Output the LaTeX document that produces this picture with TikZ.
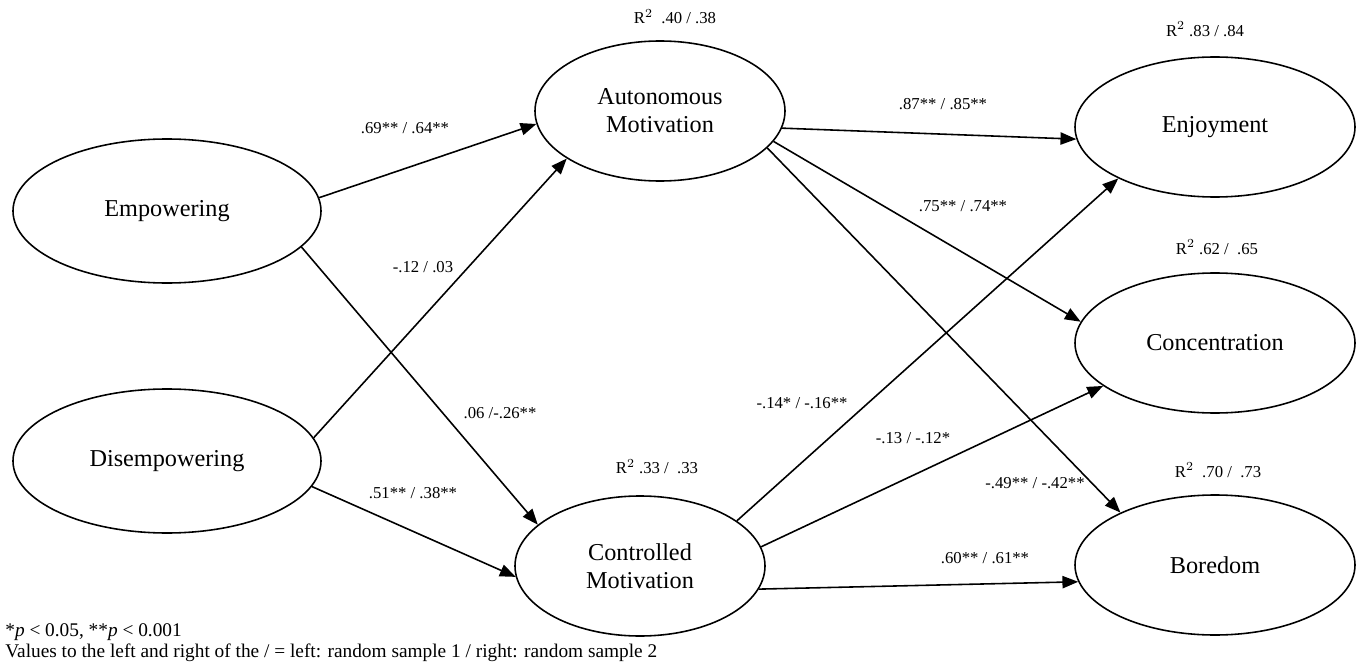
\documentclass[tikz,border=0pt]{standalone}
\usepackage{fontspec}
\setmainfont{Liberation Serif}
\usetikzlibrary{shapes.geometric, arrows.meta, positioning}

\begin{document}
\begin{tikzpicture}[
    latent/.style={ellipse, draw, line width=0.9pt, inner sep=0pt, align=center, font=\fontsize{13.8}{16}\selectfont},
    pred/.style={latent, minimum width=6.16cm, minimum height=2.88cm},
    med/.style={latent, minimum width=5.0cm, minimum height=2.8cm},
    outc/.style={latent, minimum width=5.6cm, minimum height=2.8cm},
    arrow/.style={-{Triangle[length=9pt,width=7pt]}, line width=0.9pt},
    coef/.style={font=\fontsize{9.5}{11}\selectfont},
    rsq/.style={font=\fontsize{9.5}{11}\selectfont}
]
    \useasboundingbox (0,0) rectangle (27.24,-13.28);

    % Nodes
    \node[pred] (emp) at (3.34,-4.22) {Empowering};
    \node[pred] (disemp) at (3.34,-9.22) {Disempowering};
    \node[med] (auto) at (13.2,-2.22) {Autonomous\\Motivation};
    \node[med] (ctrl) at (12.8,-11.32) {Controlled\\Motivation};
    \node[outc] (enjoy) at (24.3,-2.54) {Enjoyment};
    \node[outc] (conc) at (24.3,-6.86) {Concentration};
    \node[outc] (bored) at (24.3,-11.3) {Boredom};

    % R2 labels above
    \node[rsq, above=0.2cm of auto, xshift=0.3cm] (r2auto) {R$^2$~~.40 / .38};
    \node[rsq, above=0.3cm of ctrl, xshift=0.34cm] (r2ctrl) {R$^2$ .33 /~~.33};
    \node[rsq, above=0.27cm of enjoy, xshift=-0.2cm] (r2enjoy) {R$^2$ .83 / .84};
    \node[rsq, above=0.23cm of conc, xshift=0.04cm] (r2conc) {R$^2$ .62 /~~.65};
    \node[rsq, above=0.21cm of bored, xshift=0.06cm] (r2bored) {R$^2$~~.70 /~~.73};

    % Arrows
    \draw[arrow] (emp.5) -- (auto.186);
    \draw[arrow] (emp.-15) -- (ctrl.158);
    \draw[arrow] (disemp.9) -- (auto.207);
    \draw[arrow] (disemp.-10) -- (ctrl.185);
    \draw[arrow] (auto.-8) -- (enjoy.185);
    \draw[arrow] (auto.-15) -- (conc.171);
    \draw[arrow] (auto.-19) -- (bored.151);
    \draw[arrow] (ctrl.25) -- (enjoy.208);
    \draw[arrow] (ctrl.9) -- (conc.201);
    \draw[arrow] (ctrl.-11) -- (bored.187);

    % Path coefficients
    \node[coef] (c1) at (8.1,-2.56) {.69** / .64**};
    \node[coef] (c2) at (8.46,-5.34) {-.12 / .03};
    \node[coef] (c3) at (10.0,-8.26) {.06 /-.26**};
    \node[coef] (c4) at (8.26,-9.86) {.51** / .38**};
    \node[coef] (c5) at (18.86,-2.08) {.87** / .85**};
    \node[coef] (c6) at (19.26,-4.12) {.75** / .74**};
    \node[coef] (c7) at (16.04,-8.06) {-.14* / -.16**};
    \node[coef] (c8) at (18.26,-8.76) {-.13 / -.12*};
    \node[coef] (c9) at (20.7,-9.66) {-.49** / -.42**};
    \node[coef] (c10) at (19.7,-11.16) {.60** / .61**};

    % Note
    \node[anchor=north west, inner sep=0pt, align=left, font=\fontsize{11}{12.2}\selectfont] (note) at (0.1,-12.46)
        {*\textit{p} < 0.05, **\textit{p} < 0.001\\Values to the left and right of the / = left: random sample 1 / right: random sample 2};
\end{tikzpicture}
\end{document}
